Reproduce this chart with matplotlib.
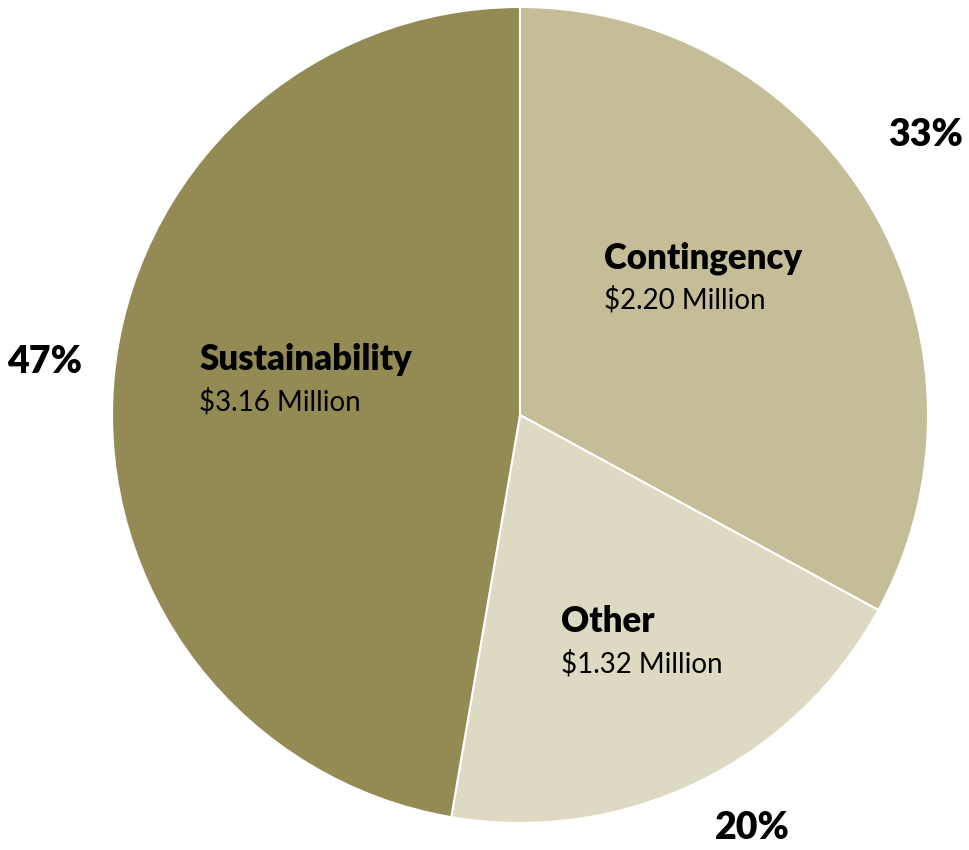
import matplotlib.pyplot as plt

# Budget split, in millions of dollars
categories = ["Contingency", "Other", "Sustainability"]
amounts = [2.20, 1.32, 3.16]
colors = ["#C4BD97", "#DDD9C3", "#948A54"]

plt.rcParams["font.family"] = ["Lato", "DejaVu Sans"]

fig = plt.figure(figsize=(9.69, 8.5), dpi=100)
cx, cy, r = 520, 415, 408
ax = fig.add_axes([(cx - r) / 969, (850 - cy - r) / 850, 2 * r / 969, 2 * r / 850])

ax.pie(amounts, colors=colors, startangle=90, counterclock=False, radius=1,
       wedgeprops=dict(edgecolor="white", linewidth=1.5))
ax.set_xlim(-1, 1)
ax.set_ylim(-1, 1)
ax.set_aspect("equal")
ax.axis("off")


def px(x, y):
    # pixel position (from top-left) to data coordinates of the pie
    return (x - cx) / r, (cy - y) / r


total = sum(amounts)
pct_pos = [(926, 135), (752, 828), (45, 362)]
name_pos = [(604, 258), (561, 622), (199, 360)]

for name, amt, p, n in zip(categories, amounts, pct_pos, name_pos):
    pct = round(amt / total * 100)
    ax.text(*px(*p), f"{pct}%", ha="center", va="center", fontsize=27,
            fontweight="heavy", clip_on=False)
    ax.text(*px(*n), name, ha="left", va="center", fontsize=25,
            fontweight="heavy")
    ax.text(*px(n[0], n[1] + 42), f"${amt:.2f} Million", ha="left",
            va="center", fontsize=20)

fig.savefig("out.png", dpi=100)
